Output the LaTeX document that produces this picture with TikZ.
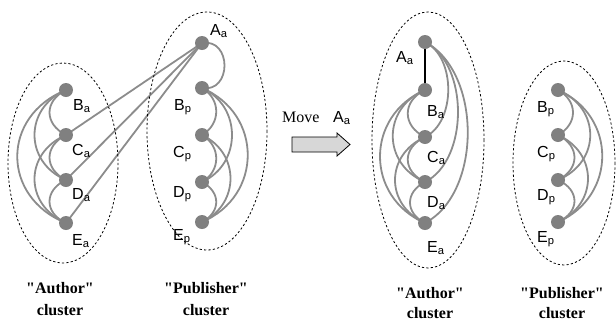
\documentclass[tikz,border=0pt]{standalone}
\usepackage{fontspec}
\setmainfont{Liberation Serif}
\newfontfamily\lsans{Liberation Sans}
\usetikzlibrary{backgrounds}
\definecolor{vgray}{RGB}{128,128,128}
\definecolor{egray}{RGB}{140,140,140}
\definecolor{arrowfill}{RGB}{215,215,215}
\begin{document}
\begin{tikzpicture}[x=1pt,y=-1pt,
  vtx/.style={circle,fill=vgray,inner sep=0pt,minimum size=14pt},
  edge/.style={draw=egray,line width=1.8pt},
  lbl/.style={font=\lsans\fontsize{16}{18}\selectfont,inner sep=0pt,anchor=base west},
  clus/.style={draw=black,line width=0.8pt,dash pattern=on 2.2pt off 2.2pt},
  capt/.style={font=\bfseries\fontsize{16}{18}\selectfont,inner sep=0pt,anchor=base}]
\useasboundingbox (0,0) rectangle (616,325);

% clusters
\draw[clus] (63,163) ellipse [x radius=55, y radius=100];
\draw[clus] (207,131) ellipse [x radius=60, y radius=119];
\draw[clus] (428,140) ellipse [x radius=56, y radius=128];
\draw[clus] (564,163) ellipse [x radius=51, y radius=102];

% ---- left: author cluster
\node[vtx] (laB) at (66,90) {};
\node[vtx] (laC) at (66,135) {};
\node[vtx] (laD) at (66,180) {};
\node[vtx] (laE) at (66,223) {};
% ---- left: publisher cluster
\node[vtx] (lpA) at (202,43) {};
\node[vtx] (lpB) at (202,88) {};
\node[vtx] (lpC) at (202,135) {};
\node[vtx] (lpD) at (202,182) {};
\node[vtx] (lpE) at (202,222) {};
% ---- right: author cluster
\node[vtx] (raA) at (425,42) {};
\node[vtx] (raB) at (425,90) {};
\node[vtx] (raC) at (425,137) {};
\node[vtx] (raD) at (425,182) {};
\node[vtx] (raE) at (425,223) {};
% ---- right: publisher cluster
\node[vtx] (rpB) at (558,90) {};
\node[vtx] (rpC) at (558,135) {};
\node[vtx] (rpD) at (558,180) {};
\node[vtx] (rpE) at (558,222) {};

\begin{scope}[on background layer]
% left author K4 (bulging left)
\draw[edge] (laB.center) .. controls +(-22,11) and +(-22,-11) .. (laC.center);
\draw[edge] (laB.center) .. controls +(-42,18) and +(-42,-18) .. (laD.center);
\draw[edge] (laB.center) .. controls +(-65,26) and +(-65,-26) .. (laE.center);
\draw[edge] (laC.center) .. controls +(-22,11) and +(-22,-11) .. (laD.center);
\draw[edge] (laC.center) .. controls +(-42,18) and +(-42,-18) .. (laE.center);
\draw[edge] (laD.center) .. controls +(-22,10) and +(-22,-10) .. (laE.center);
% A_a to author nodes
\draw[edge] (lpA.center) -- (laC.center);
\draw[edge] (lpA.center) -- (laD.center);
\draw[edge] (lpA.center) -- (laE.center);
\draw[edge] (lpA.center) .. controls +(30,-5) and +(30,5) .. (lpB.center);
% left publisher K4 (bulging right)
\draw[edge] (lpB.center) .. controls +(19,11) and +(19,-11) .. (lpC.center);
\draw[edge] (lpB.center) .. controls +(40,18) and +(40,-18) .. (lpD.center);
\draw[edge] (lpB.center) .. controls +(61,26) and +(61,-26) .. (lpE.center);
\draw[edge] (lpC.center) .. controls +(19,11) and +(19,-11) .. (lpD.center);
\draw[edge] (lpC.center) .. controls +(38,18) and +(38,-18) .. (lpE.center);
\draw[edge] (lpD.center) .. controls +(19,10) and +(19,-10) .. (lpE.center);
% right author
\draw[black,line width=2.6pt] (raA.center) -- (raB.center);
\draw[edge] (raA.center) .. controls +(31,15) and +(31,-15) .. (raC.center);
\draw[edge] (raA.center) .. controls +(44,22) and +(44,-22) .. (raD.center);
\draw[edge] (raA.center) .. controls +(57,30) and +(57,-30) .. (raE.center);
\draw[edge] (raB.center) .. controls +(-23,11) and +(-23,-11) .. (raC.center);
\draw[edge] (raB.center) .. controls +(-43,18) and +(-43,-18) .. (raD.center);
\draw[edge] (raB.center) .. controls +(-60,26) and +(-60,-26) .. (raE.center);
\draw[edge] (raC.center) .. controls +(-23,11) and +(-23,-11) .. (raD.center);
\draw[edge] (raC.center) .. controls +(-40,18) and +(-40,-18) .. (raE.center);
\draw[edge] (raD.center) .. controls +(-20,10) and +(-20,-10) .. (raE.center);
% right publisher K4 (bulging right)
\draw[edge] (rpB.center) .. controls +(20,11) and +(20,-11) .. (rpC.center);
\draw[edge] (rpB.center) .. controls +(43,18) and +(43,-18) .. (rpD.center);
\draw[edge] (rpB.center) .. controls +(59,26) and +(59,-26) .. (rpE.center);
\draw[edge] (rpC.center) .. controls +(22,11) and +(22,-11) .. (rpD.center);
\draw[edge] (rpC.center) .. controls +(40,18) and +(40,-18) .. (rpE.center);
\draw[edge] (rpD.center) .. controls +(22,10) and +(22,-10) .. (rpE.center);
\end{scope}

% labels
\node[lbl] (tlaB) at (73,110) {B\textsubscript{a}};
\node[lbl] (tlaC) at (72,155) {C\textsubscript{a}};
\node[lbl] (tlaD) at (72,199) {D\textsubscript{a}};
\node[lbl] (tlaE) at (72,245) {E\textsubscript{a}};
\node[lbl] (tlpA) at (210,35) {A\textsubscript{a}};
\node[lbl] (tlpB) at (174,110) {B\textsubscript{p}};
\node[lbl] (tlpC) at (173,157) {C\textsubscript{p}};
\node[lbl] (tlpD) at (173,197) {D\textsubscript{p}};
\node[lbl] (tlpE) at (173,240) {E\textsubscript{p}};
\node[lbl] (traA) at (396,62) {A\textsubscript{a}};
\node[lbl] (traB) at (427,116) {B\textsubscript{a}};
\node[lbl] (traC) at (427,162) {C\textsubscript{a}};
\node[lbl] (traD) at (427,207) {D\textsubscript{a}};
\node[lbl] (traE) at (427,252) {E\textsubscript{a}};
\node[lbl] (trpB) at (537,112) {B\textsubscript{p}};
\node[lbl] (trpC) at (537,157) {C\textsubscript{p}};
\node[lbl] (trpD) at (537,200) {D\textsubscript{p}};
\node[lbl] (trpE) at (537,242) {E\textsubscript{p}};

% move arrow
\node[font=\fontsize{16}{18}\selectfont,inner sep=0pt,anchor=base west] (mv) at (282,122.3) {Move};
\node[lbl] (mvA) at (333,122.3) {A\textsubscript{a}};
\draw[fill=arrowfill,draw=black,line width=0.8pt]
  (292,137) -- (337,137) -- (337,133) -- (350,144.5) -- (337,156) -- (337,152) -- (292,152) -- cycle;

% captions
\node[capt] (c1a) at (60,293) {\textquotedbl Author\textquotedbl};
\node[capt] (c1b) at (60,315) {cluster};
\node[capt] (c2a) at (206,293) {\textquotedbl Publisher\textquotedbl};
\node[capt] (c2b) at (206,315) {cluster};
\node[capt] (c3a) at (430,298) {\textquotedbl Author\textquotedbl};
\node[capt] (c3b) at (430,318) {cluster};
\node[capt] (c4a) at (562,298) {\textquotedbl Publisher\textquotedbl};
\node[capt] (c4b) at (562,318) {cluster};
\end{tikzpicture}
\end{document}
